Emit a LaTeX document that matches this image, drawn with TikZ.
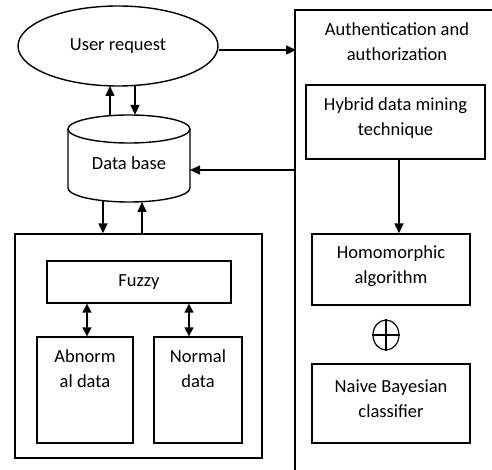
\documentclass[tikz,border=0pt]{standalone}
\usepackage{fontspec}
\setmainfont{Carlito}
\usetikzlibrary{arrows.meta,shapes.geometric}
\begin{document}
\begin{tikzpicture}[x=1pt,y=1pt,
  box/.style={draw,line width=1.4pt,minimum width=#1,inner sep=0pt},
  txt/.style={font=\fontsize{18.5}{25}\selectfont,align=center,inner sep=0pt},
  arr/.style={line width=1.5pt,-{Triangle[length=10pt,width=9pt]}},
  darr/.style={line width=1.5pt,{Triangle[length=9pt,width=9pt]}-{Triangle[length=9pt,width=9pt]}}
]
\useasboundingbox (0,0) rectangle (492,-470);
% User request
\node[draw,ellipse,line width=1.4pt,minimum width=200pt,minimum height=80pt,inner sep=0pt,txt] (ur) at (118,-46) {User request};
% right frame
\coordinate (frtop) at (492,-10);
\coordinate (frtl) at (295,-10);
\coordinate (frbot) at (295,-470);
\draw[line width=1.4pt] (frtop) -- (frtl) -- (frbot);
\node[txt] (auth) at (397,-42) {Authentication and\\authorization};
% hybrid
\node[box=179pt,minimum height=74pt] (hyb) at (395.5,-122) {};
\node[txt] (hybt) at (395.5,-118) {Hybrid data mining\\technique};
\node[box=158pt,minimum height=71pt] (hom) at (391,-269.5) {};
\node[txt] (homt) at (391,-266) {Homomorphic\\algorithm};
\node[box=158pt,minimum height=79pt] (nb) at (391,-403.5) {};
\node[txt] (nbt) at (391,-398.5) {Naive Bayesian\\classifier};
% oplus
\node[draw,ellipse,line width=1.2pt,minimum width=26pt,minimum height=30pt,inner sep=0pt] (op) at (386,-335) {};
\draw[line width=1.2pt] (op.north) -- (op.south) (op.west) -- (op.east);
% database
\node[minimum width=122pt,minimum height=87pt,inner sep=0pt] (db) at (129,-158.5) {};
\draw[line width=1.4pt,fill=white] (68,-129) -- (68,-188) arc[start angle=180,end angle=360,x radius=61,y radius=14] -- (190,-129);
\draw[line width=1.4pt] (129,-129) ellipse[x radius=61,y radius=14];
\node[txt] (dbt) at (129,-163) {Data base};
% lower box
\node[box=247pt,minimum height=224pt] (low) at (138.5,-346) {};
\node[box=184pt,minimum height=42pt,txt] (fz) at (139,-282) {Fuzzy};
\node[box=96pt,minimum height=106pt] (ab) at (85,-390) {};
\node[txt] (abt) at (85,-369) {Abnorm\\al data};
\node[box=88pt,minimum height=106pt] (no) at (198,-390) {};
\node[txt] (not) at (198,-369) {Normal\\data};
% arrows
\coordinate (fra) at (296,-50);
\draw[arr] (ur.east |- 0,-50) -- (fra);
\draw[arr] (db.north -| 110,0) -- (110,-86);
\draw[arr] (135,-86) -- (db.north -| 135,0);
\coordinate (frb) at (295,-170);
\draw[arr] (frb) -- (190,-170);
\draw[arr] (103,-201) -- (low.north -| 103,0);
\draw[arr] (low.north -| 142,0) -- (142,-202);
\draw[darr] (fz.south -| 87,0) -- (ab.north -| 87,0);
\draw[darr] (fz.south -| 189,0) -- (no.north -| 189,0);
\draw[arr] (hyb.south -| 399,0) -- (hom.north -| 399,0);
\end{tikzpicture}
\end{document}
